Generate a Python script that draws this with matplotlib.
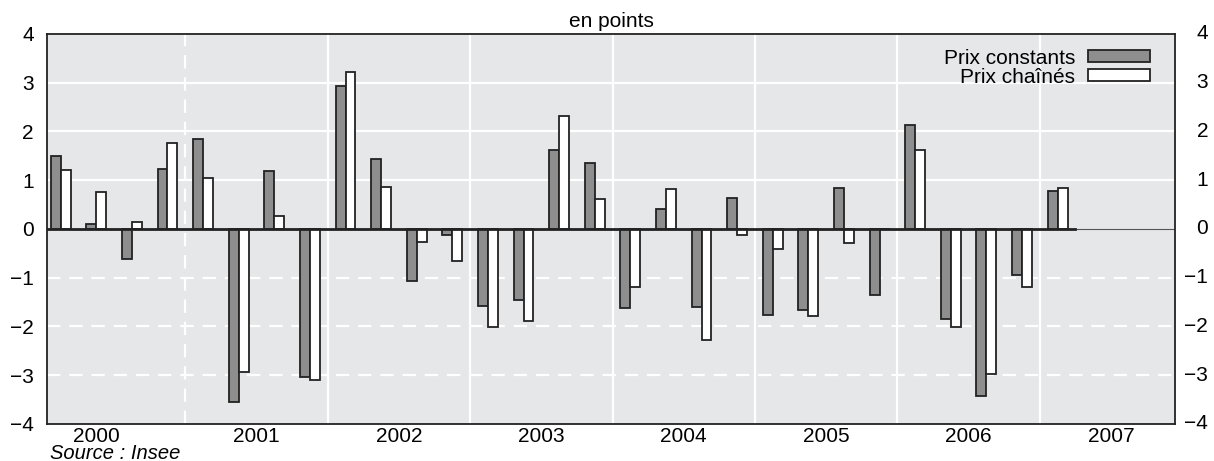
import numpy as np
import matplotlib
matplotlib.use("Agg")
import matplotlib.pyplot as plt

plt.rcParams['font.family'] = ['Liberation Sans', 'DejaVu Sans']

# quarterly contributions, 2000 Q1 .. 2007 Q1
years = ["2000", "2001", "2002", "2003", "2004", "2005", "2006", "2007"]
prix_constants = [1.50, 0.10, -0.62, 1.23,
                  1.84, -3.54, 1.19, -3.04,
                  2.93, 1.43, -1.06, -0.12,
                  -1.57, -1.46, 1.63, 1.36,
                  -1.63, 0.41, -1.61, 0.63,
                  -1.76, -1.67, 0.85, -1.35,
                  2.13, -1.84, -3.43, -0.94,
                  0.77]
prix_chaines = [1.22, 0.75, 0.15, 1.77,
                1.05, -2.93, 0.27, -3.09,
                3.23, 0.87, -0.27, -0.66,
                -2.02, -1.89, 2.32, 0.62,
                -1.18, 0.81, -2.27, -0.12,
                -0.42, -1.79, -0.29, 0.0,
                1.63, -2.02, -2.98, -1.20,
                0.85]
yticks = [-4, -3, -2, -1, 0, 1, 2, 3, 4]

x = np.arange(len(prix_constants))
w = 0.28
bg = "#e6e7e9"

fig = plt.figure(figsize=(12.14, 4.61), dpi=100)
ax = fig.add_axes([0.0387, 0.0803, 0.9292, 0.8460])
ax.set_facecolor(bg)

# grid: solid above zero, dashed below
for v in [1, 2, 3]:
    ax.axhline(v, color="white", lw=1.6, zorder=1)
for v in [-1, -2, -3]:
    ax.axhline(v, color="white", lw=1.6, ls=(0, (6, 4)), zorder=1)
for k in range(1, len(years)):
    xb = 4 * k - 0.5
    ax.axvline(xb, color="white", lw=1.6, ls=(0, (6, 4)) if k == 1 else "-", zorder=1)

ax.bar(x - w / 2, prix_constants, w, color="#8e8e8e", edgecolor="#222222",
       lw=1.3, zorder=3, label="Prix constants")
ax.bar(x + w / 2, prix_chaines, w, color="white", edgecolor="#222222",
       lw=1.3, zorder=3, label="Prix chaînés")

ax.set_xlim(-0.385, 31.3)
ax.set_ylim(-4, 4)
ax.axhline(0, color="#555555", lw=0.8, zorder=2)
ax.plot([-0.385, len(x) - 0.5], [0, 0], color="#222222", lw=2, zorder=4)

# year labels centred on each year (first one sits a bit left)
xt = [4 * k + 1.5 for k in range(len(years))]
xt[0] = 1.0
ax.set_xticks(xt)
ax.set_xticklabels(years, fontsize=15)
ax.tick_params(axis="x", length=0, pad=2)

ax.set_yticks(yticks)
ax.tick_params(axis="y", length=0, labelsize=15, pad=9.5)

# right-hand labels, right aligned like the original
tr = ax.get_yaxis_transform()
for v in yticks:
    lab = str(v).replace("-", "\u2212")
    ax.text(1.0 + 33 / 1128, v, lab, transform=tr, ha="right", va="center",
            fontsize=15, clip_on=False)

for s in ax.spines.values():
    s.set_color("#222222")
    s.set_linewidth(1.3)

ax.set_title("en points", fontsize=15, pad=5)

leg = ax.legend(loc="upper right", bbox_to_anchor=(0.978, 0.962),
                frameon=False, markerfirst=False, fontsize=15,
                handlelength=3.0, handleheight=0.5, handletextpad=0.6,
                labelspacing=0.0, borderaxespad=0, borderpad=0)

fig.text(0.041, 0.004, "Source : Insee", fontsize=14.5, style="italic",
         va="baseline")

fig.savefig("out.png", dpi=100, facecolor="white")
